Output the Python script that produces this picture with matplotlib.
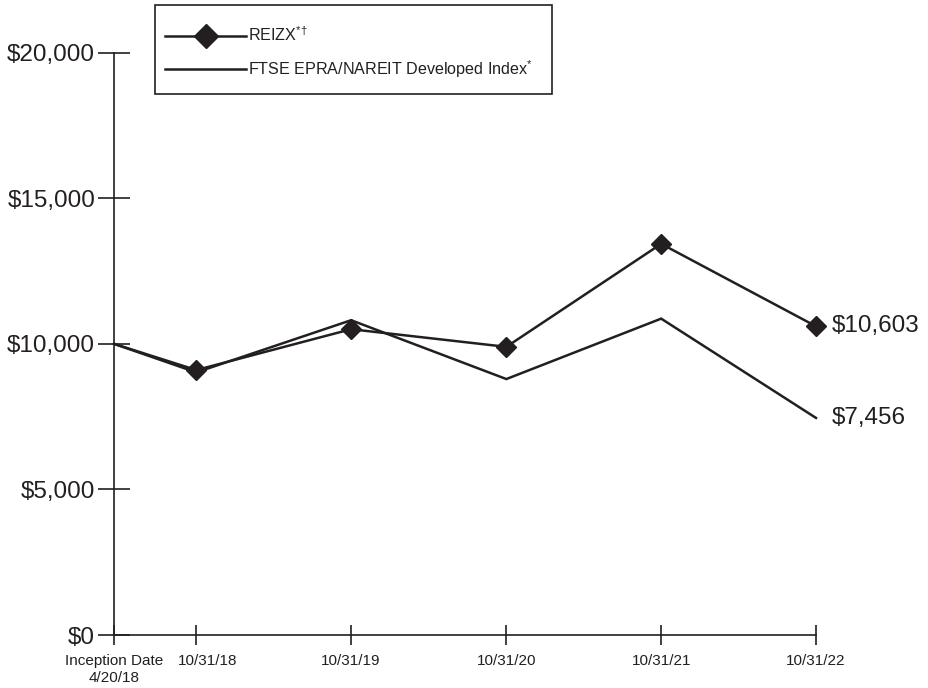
import pandas as pd
import matplotlib.pyplot as plt
import matplotlib.transforms as mtransforms
from matplotlib.lines import Line2D
from matplotlib.patches import Rectangle

plt.rcParams['font.family'] = ['Liberation Sans', 'DejaVu Sans']
plt.rcParams['mathtext.fontset'] = 'custom'
plt.rcParams['mathtext.rm'] = 'Liberation Sans'
plt.rcParams['mathtext.it'] = 'Liberation Sans'

# values (growth of $10,000)
dates = pd.to_datetime(['2018-04-20', '2018-10-31', '2019-10-31',
                        '2020-10-31', '2021-10-31', '2022-10-31'])
tick_labels = ['Inception Date\n4/20/18', '10/31/18', '10/31/19',
               '10/31/20', '10/31/21', '10/31/22']
reizx = [10000, 9100, 10503, 9897, 13435, 10603]
index_vals = [10000, 9020, 10812, 8791, 10866, 7456]
y_ticks = [0, 5000, 10000, 15000, 20000]

INK = '#231f20'

fig = plt.figure(figsize=(9.29, 6.88), dpi=100)
ax = fig.add_axes([114 / 929, 1 - 635 / 688, (816 - 114) / 929, (635 - 52.7) / 688])

ax.plot(dates, index_vals, color=INK, lw=1.8, solid_joinstyle='miter', clip_on=False)
# no marker at the inception point
ax.plot(dates, reizx, color=INK, lw=1.8, marker='D', markersize=10.5,
        markevery=list(range(1, len(dates))), solid_joinstyle='miter', clip_on=False)

ax.set_xlim(dates[0], dates[-1])
ax.set_ylim(0, 20000)
ax.set_xticks(dates)
ax.set_xticklabels(tick_labels)
ax.set_yticks(y_ticks)
ax.set_yticklabels(['${:,}'.format(v) for v in y_ticks])

for s in ['top', 'right']:
    ax.spines[s].set_visible(False)
for s in ['left', 'bottom']:
    ax.spines[s].set_color(INK)
    ax.spines[s].set_linewidth(1.2)

ax.tick_params(axis='y', direction='inout', length=23, width=1.2, color=INK,
               labelsize=17.5, labelcolor=INK, pad=2)
ax.tick_params(axis='x', direction='inout', length=14, width=1.2, color=INK,
               labelsize=11, labelcolor=INK, pad=7)
ax.patch.set_visible(False)

# first date label sits a little right so it clears "Inception Date"
lbl = ax.get_xticklabels()[1]
lbl.set_transform(lbl.get_transform() +
                  mtransforms.ScaledTranslation(8 / 72, 0, fig.dpi_scale_trans))

# end-of-line value labels
ax.annotate('${:,}'.format(reizx[-1]), (dates[-1], reizx[-1]), xytext=(11, 0),
            textcoords='offset points', va='center', ha='left',
            fontsize=17.5, color=INK, annotation_clip=False)
ax.annotate('${:,}'.format(index_vals[-1]), (dates[-1], index_vals[-1]), xytext=(11, 0),
            textcoords='offset points', va='center', ha='left',
            fontsize=17.5, color=INK, annotation_clip=False)

# legend box drawn separately so its size matches the original
fig.patches.append(Rectangle((155 / 929, 1 - 94 / 688), 397 / 929, 89 / 688,
                             transform=fig.transFigure, fill=False,
                             edgecolor=INK, lw=1.2))
handles = [Line2D([], [], color=INK, lw=1.8, marker='D', markersize=12),
           Line2D([], [], color=INK, lw=1.8)]
labels = ['REIZX$^{*\u2020}$', 'FTSE EPRA/NAREIT Developed Index$^{*}$']
fig.legend(handles, labels, loc='upper left',
           bbox_to_anchor=(159 / 929, 1 - 19 / 688), borderaxespad=0,
           fontsize=11.6, handlelength=5.0, handletextpad=0.15,
           frameon=False, borderpad=0.4, labelspacing=0.85, labelcolor=INK)

fig.savefig('out.png', dpi=100)
